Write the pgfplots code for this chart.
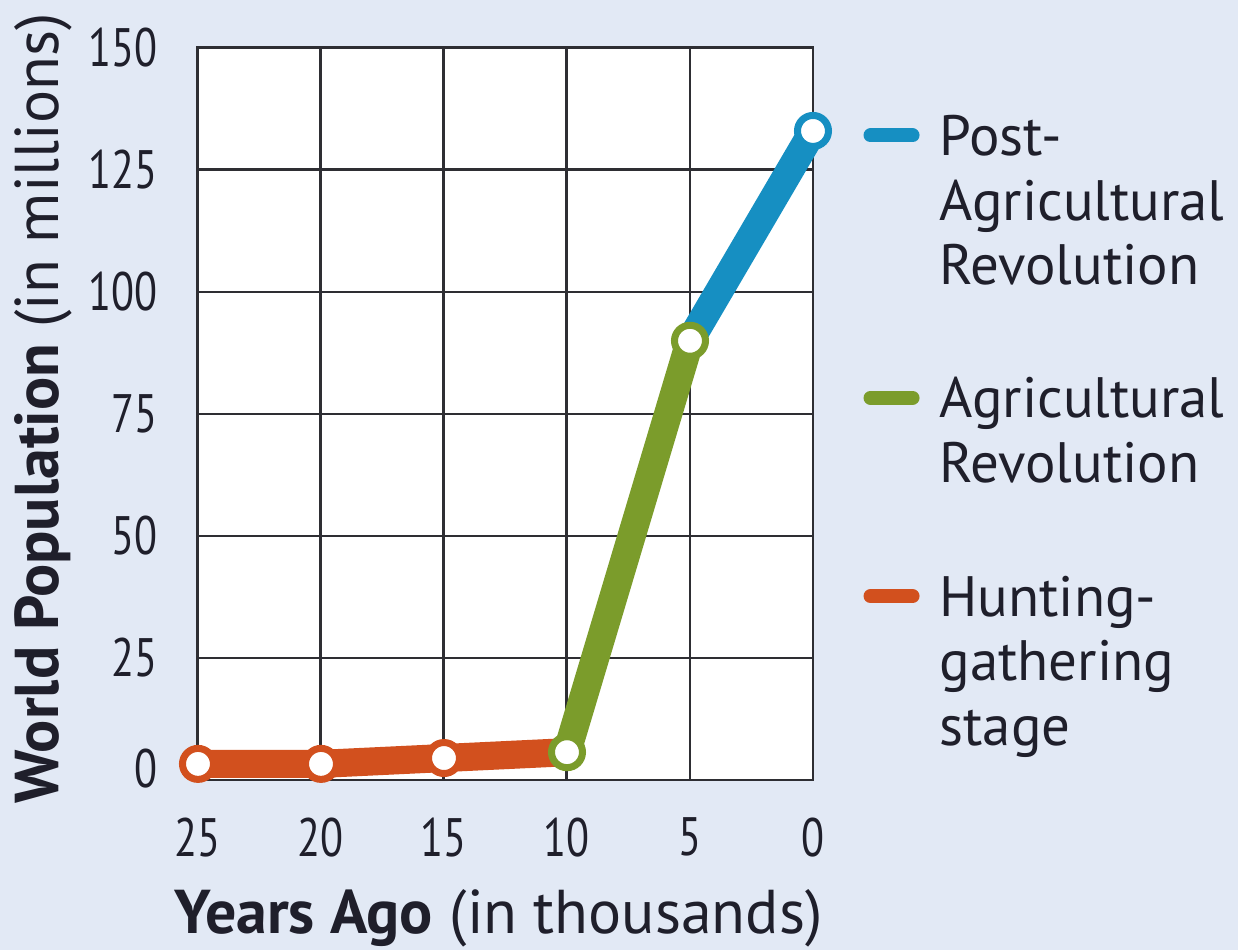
\documentclass[border=0pt]{standalone}
\usepackage{fontspec}
\setmainfont{PT Sans}
\newfontfamily\tickfont{PT Sans}[FakeStretch=0.78]
\usepackage{pgfplots}
\pgfplotsset{compat=1.18}
\definecolor{bg}{HTML}{E2E9F5}
\definecolor{orng}{HTML}{D2501E}
\definecolor{grn}{HTML}{7B9C2B}
\definecolor{blu}{HTML}{168FC2}
\definecolor{txt}{HTML}{1F1F2B}
\definecolor{gridc}{HTML}{2E2E33}
\pgfplotsset{legbar/.style={legend image code/.code={\path[draw=none] (0mm,0pt) -- (5.5mm,0pt); \draw[##1, line cap=round, line width=4pt] (0.65mm,5.7pt) -- (4.85mm,5.7pt);}}}
\begin{document}
\begin{tikzpicture}
\fill[bg] (-1.98,-1.70) rectangle (10.40,7.80);
\begin{axis}[
  at={(0,0)}, anchor=south west,
  scale only axis, width=6.15cm, height=7.32cm,
  xmin=0, xmax=25, ymin=0, ymax=150,
  x dir=reverse,
  axis background/.style={fill=white},
  xtick={25,20,15,10,5,0},
  xticklabels={25,20,15,10,5,0},
  ytick={0,25,50,75,100,125,150},
  yticklabels={\raisebox{6.8pt}{0},25,50,75,100,125,150},
  major tick length=0pt,
  grid=major,
  major grid style={gridc, line width=0.85pt},
  axis line style={gridc, line width=0.85pt},
  tick label style={font=\tickfont\fontsize{15.4}{18}\selectfont, text=txt, inner sep=0pt},
  xticklabel style={yshift=-10.5pt},
  yticklabel style={xshift=-11.4pt},
  xlabel={\textbf{Years Ago} (in thousands)},
  ylabel={\textbf{World Population} (in millions)},
  label style={font=\fontsize{17.6}{20}\selectfont, text=txt},
  xlabel style={at={(axis description cs:0.489,-0.1885)}, anchor=center},
  ylabel style={at={(axis description cs:-0.252,0.508)}, anchor=center},
  clip=false,
  legend style={draw=none, fill=none, inner sep=0pt, at={(1.0810,0.9256)}, anchor=north west,
    font=\fontsize{16.2}{18.4}\selectfont, text=txt, row sep=0pt, column sep=1.3mm,
    cells={anchor=base west, inner sep=0pt}},
]
\addplot[blu, line width=8pt, line cap=round, mark=*, mark indices={2}, mark size=1.55mm,
  mark options={fill=white, draw=blu, line width=2pt}, forget plot]
  coordinates {(5,90) (0,133)};
\addplot[orng, line width=8pt, line cap=round, mark=*, mark indices={1,2,3}, mark size=1.55mm,
  mark options={fill=white, draw=orng, line width=2pt}, forget plot]
  coordinates {(25,3.3) (20,3.3) (15,4.5) (10,5.7)};
\addplot[grn, line width=8pt, line cap=round, mark=*, mark size=1.55mm,
  mark options={fill=white, draw=grn, line width=2pt}, forget plot]
  coordinates {(10,5.7) (5,90)};
\addlegendimage{blu, legbar}
\addlegendentry{\strut Post-}
\addlegendimage{empty legend}
\addlegendentry{\strut Agricultural}
\addlegendimage{empty legend}
\addlegendentry{\strut Revolution}
\addlegendimage{empty legend}
\addlegendentry{\rule{0pt}{14pt}}
\addlegendimage{grn, legbar}
\addlegendentry{\strut Agricultural}
\addlegendimage{empty legend}
\addlegendentry{\strut Revolution}
\addlegendimage{empty legend}
\addlegendentry{\rule{0pt}{14.2pt}}
\addlegendimage{orng, legbar}
\addlegendentry{\strut Hunting-}
\addlegendimage{empty legend}
\addlegendentry{\strut gathering}
\addlegendimage{empty legend}
\addlegendentry{\strut stage}
\end{axis}
\pgfresetboundingbox
\path[use as bounding box] (-1.98,-1.70) rectangle (10.40,7.80);
\end{tikzpicture}
\end{document}
